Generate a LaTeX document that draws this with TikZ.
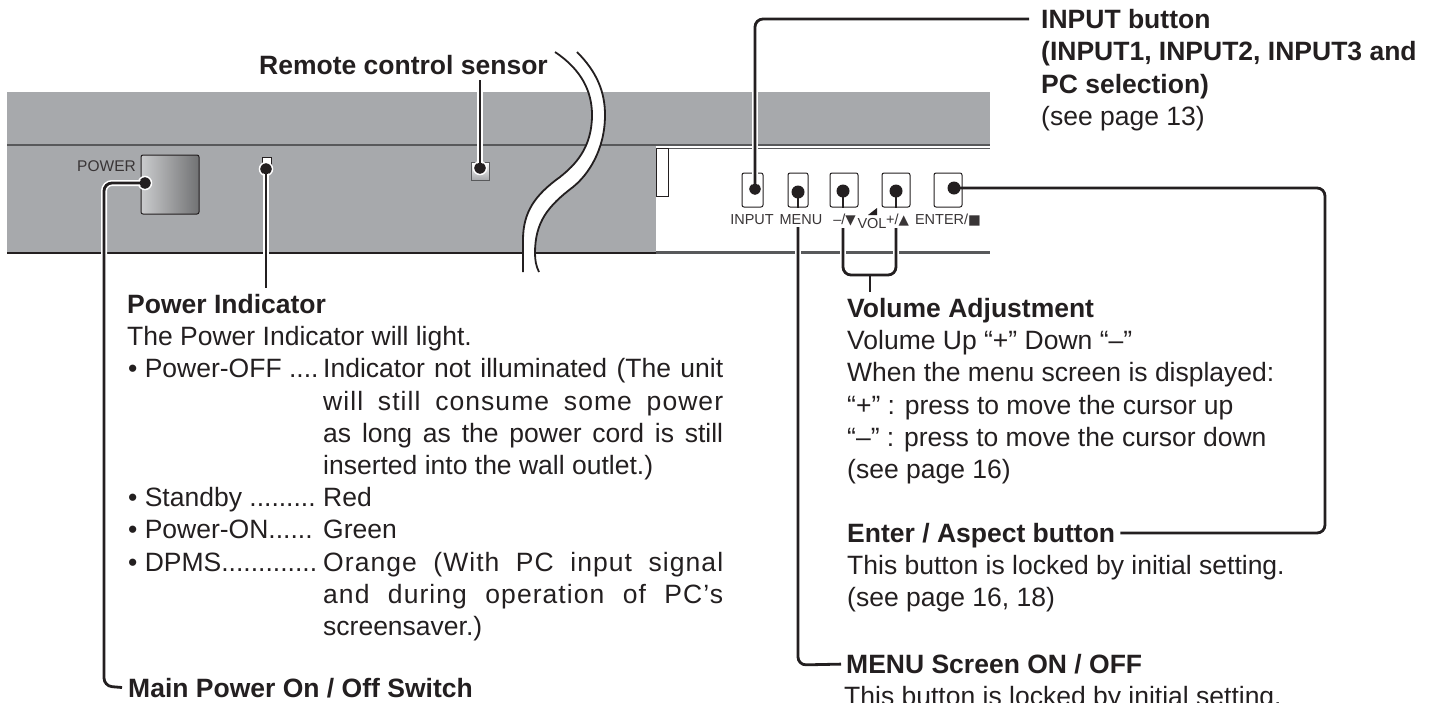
\documentclass[tikz,border=0pt]{standalone}
\usepackage{fontspec}
\setmainfont{Liberation Sans}
\newfontfamily\symfont{DejaVu Sans}
\newfontfamily\trackfont[LetterSpace=4]{Liberation Sans}
\definecolor{myink}{HTML}{231F20}
\definecolor{mypanel}{HTML}{A7A9AC}
\definecolor{myedge}{HTML}{58595B}
\newcommand{\keysym}[1]{{\symfont\fontsize{13.5}{14}\selectfont #1}}
\tikzset{
  titletext/.style={anchor=base west,inner sep=0pt,text=myink,text height=18pt,text depth=0pt,font=\fontsize{26.5}{32}\selectfont\bfseries},
  bodytext/.style={anchor=base west,inner sep=0pt,text=myink,font=\fontsize{26.5}{32}\selectfont},
  keytext/.style={anchor=base,inner sep=0pt,text=myink!90!white,font=\fontsize{14.5}{16}\selectfont},
  keybox/.style={draw=myink,line width=1pt,rounded corners=2pt,fill=white},
  calldot/.style={circle,fill=myink,draw=white,line width=1.5pt,minimum size=13pt,inner sep=0pt},
  callhalo/.style={draw=white,line width=6pt,rounded corners=8pt},
  callout/.style={draw=myink,line width=2.8pt,rounded corners=8pt}
}
\begin{document}
\begin{tikzpicture}[x=1pt,y=-1pt]
  \clip (0,0) rectangle (1431,702);
  % Draw the panel
  \fill[mypanel] (7,92) rectangle (990,253);
  \fill[white] (656,146) rectangle (990,252);
  \draw[myedge,line width=1.5pt] (7,145) -- (990,145);
  \draw[myedge,line width=1pt] (656,148) -- (990,148);
  \draw[myink,line width=1.8pt] (7,253) -- (656,253);
  \draw[myedge,line width=3pt] (656,252) -- (990,252);
  \draw[myink,line width=.8pt,fill=white] (656,148) rectangle (668,196);

  % Draw the switch, the indicator and the sensor
  \draw[myink,line width=1pt,rounded corners=2pt,left color=mypanel!60!white,right color=myedge!85!white] (141,155) rectangle (199,214);
  \draw[myink,line width=.8pt,fill=white] (262,157) rectangle (271,168);
  \draw[myedge,line width=1pt,top color=white,bottom color=mypanel] (471,162) rectangle (489,180);
  \node[keytext,anchor=base east,font=\fontsize{15.5}{16}\selectfont] (powerkey) at (136,171) {POWER};

  % Draw the break in the panel
  \fill[white] (555,52) .. controls (582,70) and (592,92) .. (592,115) .. controls (592,148) and (575,165) .. (560,177) .. controls (535,195) and (523,212) .. (523,240) -- (523,272) -- (539,272) .. controls (536,266) and (535,260) .. (535,253) .. controls (535,222) and (548,206) .. (573,187) .. controls (588,175) and (605,150) .. (605,115) .. controls (605,92) and (597,72) .. (577,52) -- cycle;
  \draw[myink,line width=1.8pt] (555,52) .. controls (582,70) and (592,92) .. (592,115) .. controls (592,148) and (575,165) .. (560,177) .. controls (535,195) and (523,212) .. (523,240) -- (523,272);
  \draw[myink,line width=1.8pt] (577,52) .. controls (597,72) and (605,92) .. (605,115) .. controls (605,150) and (588,175) .. (573,187) .. controls (548,206) and (535,222) .. (535,253) .. controls (535,260) and (536,266) .. (539,272);

  % Draw the keys
  \draw[keybox] (742,173) rectangle (763,207);
  \draw[keybox] (788,173) rectangle (808,207);
  \draw[keybox] (830,173) rectangle (858,207);
  \draw[keybox] (882,173) rectangle (910,207);
  \draw[keybox] (934,173) rectangle (962,207);
  \fill[myink] (868,215) -- (877,215) -- (877,208) -- cycle;

  % Label the keys
  \node[keytext] (inputkey) at (752,224) {INPUT};
  \node[keytext] (menukey) at (801,224) {MENU};
  \node[keytext] (minuskey) at (844.5,224) {–/\keysym{▼}};
  \node[keytext] (volkey) at (872,228) {VOL};
  \node[keytext] (pluskey) at (897.5,224) {+/\keysym{▲}};
  \node[keytext] (enterkey) at (948,224) {ENTER/\keysym{■}};

  % Titles and texts on the right
  \node[titletext] (inputtitle) at (1041,28) {INPUT button};
  \node[titletext] (inputsub) at (1041,60) {(INPUT1, INPUT2, INPUT3 and};
  \node[titletext] (inputsubb) at (1041,93) {PC selection)};
  \node[bodytext] (inputpage) at (1041,125) {(see page 13)};
  \node[titletext] (voltitle) at (847,317) {Volume Adjustment};
  \node[bodytext] (volone) at (847,349) {Volume Up “+” Down “–”};
  \node[bodytext] (voltwo) at (847,381) {When the menu screen is displayed:};
  \node[bodytext] (volthree) at (847,414) {“+” : press to move the cursor up};
  \node[bodytext] (volfour) at (847,446) {“–” : press to move the cursor down};
  \node[bodytext] (volpage) at (847,478) {(see page 16)};
  \node[titletext] (entertitle) at (847,542) {Enter / Aspect button};
  \node[bodytext] (enterone) at (847,574) {This button is locked by initial setting.};
  \node[bodytext] (enterpage) at (847,606) {(see page 16, 18)};
  \node[titletext] (menutitle) at (846,673) {MENU Screen ON / OFF};
  \node[bodytext] (menuone) at (844,705) {This button is locked by initial setting.};

  % Titles and texts on the left
  \node[titletext] (sensortitle) at (259,74) {Remote control sensor};
  \node[titletext] (indtitle) at (127,313) {Power Indicator};
  \node[bodytext] (indone) at (127,345) {The Power Indicator will light.};
  \node[bodytext] (offitem) at (128,377) {• Power-OFF ....};
  \node[bodytext] (offone) at (323,377) {\makebox[400pt][s]{Indicator not illuminated (The unit}};
  \node[bodytext] (offtwo) at (323,410) {\makebox[400pt][s]{\trackfont will still consume some power}};
  \node[bodytext] (offthree) at (323,442) {\makebox[400pt][s]{as long as the power cord is still}};
  \node[bodytext] (offfour) at (323,474) {inserted into the wall outlet.)};
  \node[bodytext] (standitem) at (128,506) {• Standby .........};
  \node[bodytext] (standone) at (323,506) {Red};
  \node[bodytext] (onitem) at (128,538) {• Power-ON......};
  \node[bodytext] (onone) at (323,538) {Green};
  \node[bodytext] (dpmsitem) at (128,571) {• DPMS.............};
  \node[bodytext] (dpmsone) at (323,571) {\makebox[400pt][s]{\trackfont Orange (With PC input signal}};
  \node[bodytext] (dpmstwo) at (323,603) {\makebox[400pt][s]{\trackfont and during operation of PC’s}};
  \node[bodytext] (dpmsthree) at (323,635) {screensaver.)};
  \node[titletext] (maintitle) at (128,697) {Main Power On / Off Switch};

  % Draw the call-outs
  \coordinate (inputbend) at (755,19);
  \coordinate (menufoot) at (798,227);
  \coordinate (menubend) at (798,665);
  \coordinate (menutop) at (798,208);
  \coordinate (minustop) at (843,208);
  \coordinate (plustop) at (896,208);
  \coordinate (minusfoot) at (843,228);
  \coordinate (plusfoot) at (896,228);
  \coordinate (bracketl) at (843,275);
  \coordinate (bracketr) at (896,275);
  \coordinate (bracketm) at (870,275);
  \coordinate (bracketend) at (870,292);
  \coordinate (enterbend) at (1325,188);
  \coordinate (enterfoot) at (1325,533);
  \coordinate (switchbend) at (104,183);
  \coordinate (switchfoot) at (104,686);
  \coordinate (indend) at (266,288);
  \coordinate (sensorend) at (480,80);

  \node[calldot] (inputdot) at (755,189) {};
  \node[calldot,draw=none] (menudot) at (798,192) {};
  \node[calldot,draw=none] (minusdot) at (843,191) {};
  \node[calldot,draw=none] (plusdot) at (896,191) {};
  \node[calldot,draw=none] (enterdot) at (954,188) {};
  \node[calldot] (switchdot) at (145,183) {};
  \node[calldot] (inddot) at (266,169) {};
  \node[calldot] (sensordot) at (480,168) {};

  \path[callhalo] (inputdot.center) -- (inputbend);
  \path[callhalo] (menufoot) -- (menubend);
  \path[callhalo] (switchdot.center) -- (switchbend) -- (switchfoot);
  \path[callhalo] (inddot.center) -- (indend);
  \path[callhalo] (sensordot.center) -- (sensorend);
  \path[callhalo] (minusfoot) -- (bracketl);
  \path[callhalo] (plusfoot) -- (bracketr);

  \draw[callout,shorten >=12pt] (inputdot.center) -- (inputbend) -- (inputtitle.west);
  \draw[callout] (menudot.center) -- (menutop);
  \draw[callout,shorten >=5pt] (menufoot) -- (menubend) -- (menutitle.west);
  \draw[callout] (minusdot.center) -- (minustop);
  \draw[callout] (plusdot.center) -- (plustop);
  \draw[callout] (minusfoot) -- (bracketl) -- (bracketr) -- (plusfoot);
  \draw[callout] (bracketm) -- (bracketend);
  \draw[callout,shorten >=5pt] (enterdot.center) -- (enterbend) -- (enterfoot) -- (entertitle.east);
  \draw[callout,shorten >=6pt] (switchdot.center) -- (switchbend) -- (switchfoot) -- (maintitle.west);
  \draw[callout] (inddot.center) -- (indend);
  \draw[callout] (sensordot.center) -- (sensorend);

  \fill[myink] (inputdot) circle (5.5) (switchdot) circle (5.5) (inddot) circle (5.5) (sensordot) circle (5.5);
\end{tikzpicture}
\end{document}
